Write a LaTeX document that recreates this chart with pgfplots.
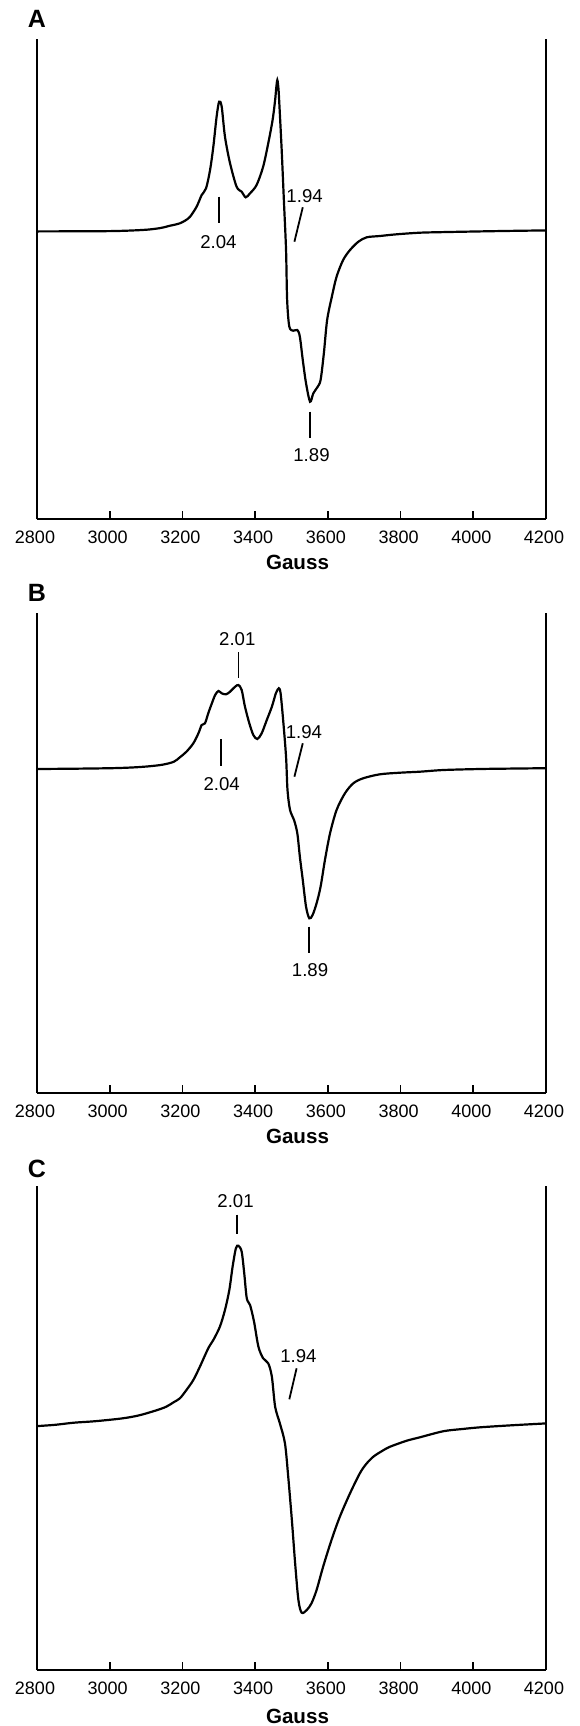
\documentclass[border=0pt]{standalone}
\usepackage{fontspec}
\setmainfont{Liberation Sans}
\usepackage{pgfplots}
\pgfplotsset{compat=1.18}

% one EPR panel; y is in arbitrary units (0..480)
\pgfplotsset{
  epr/.style={
    scale only axis, width=254.5pt, height=240pt,
    xmin=2800, xmax=4200, ymin=0, ymax=480,
    axis x line*=bottom, axis y line*=box,
    axis line style={line width=1pt, black, -},
    xtick={2800,3000,...,4200},
    xticklabels={2800,3000,3200,3400,3600,3800,4000,4200},
    ytick=\empty, xtick pos=left, tick align=inside, major tick length=4pt,
    tick style={line width=0.9pt, black},
    xticklabel style={font=\fontsize{9}{10}\selectfont, yshift=-2.5pt, xshift=-1pt},
    xlabel={Gauss},
    xlabel style={font=\bfseries\fontsize{10.3}{12}\selectfont,
      at={(axis description cs:0.5,0)}, anchor=base, yshift=-25pt, xshift=3pt},
    clip=false,
  },
  spec/.style={black, line width=1.1pt, smooth, tension=0.5},
}
\tikzset{
  ann/.style={line width=0.9pt},
  gval/.style={font=\fontsize{9.3}{11}\selectfont, inner sep=0pt},
  panel/.style={font=\bfseries\fontsize{12.5}{14}\selectfont, inner sep=0pt},
}

\begin{document}
\begin{tikzpicture}
\path[use as bounding box] (-18.5pt,-603.5pt) rectangle (271pt,259.5pt);

% ---------- A ----------
\begin{axis}[epr, at={(0pt,0pt)}, anchor=south west]
  \addplot[spec] coordinates {
    (2800,287.6)(2900,287.7)(3003,287.9)(3060,288.5)(3105,289.4)(3140,291)
    (3166,293.3)(3180,294.4)(3193,295.7)(3208,298.5)(3221,302.3)
    (3239,312.3)(3253,324)(3265,330.7)(3276,349)(3285,372.3)(3294,402.3)
    (3301,417.3)(3308,412.3)(3317,382.3)(3331,355.7)(3349,332.3)(3363,327.3)
    (3374,321.7)(3386,325.7)(3404,334)(3422,352.3)(3436,375.7)(3448,399)
    (3455,419)(3458,431)(3461,439)(3464,431)(3466,419)(3473,369)(3479,319)
    (3485,269)(3488,219)(3494,192.3)(3505,188.3)(3516,189)(3523,182.3)
    (3531,159)(3540,135.7)(3551,117.3)(3560,125.7)(3571,131.7)(3580,139)
    (3589,165.7)(3598,199)(3611,222.3)(3624,242.3)(3642,259)(3661,269)
    (3684,277.3)(3707,281.7)(3743,283)(3789,284.7)(3853,286.3)(3918,286.9)
    (4019,287.6)(4100,288.1)(4200,288.6)
  };
  \draw[ann] (axis cs:3301,322.3) -- (axis cs:3301,295.7);
  \node[gval] at (axis cs:3299,277.3) {2.04};
  \draw[ann] (axis cs:3531,311.7) -- (axis cs:3508,277.3);
  \node[gval] at (axis cs:3536,322.7) {1.94};
  \draw[ann] (axis cs:3551,107.3) -- (axis cs:3551,80.7);
  \node[gval] at (axis cs:3555,63.6) {1.89};
  \node[panel, yshift=10pt] at (rel axis cs:0,1) {A};
\end{axis}

% ---------- B ----------
\begin{axis}[epr, at={(0pt,-287pt)}, anchor=south west]
  \addplot[spec] coordinates {
    (2800,324)(2900,324.3)(3003,324.8)(3060,325.5)(3105,326.6)(3145,328.3)
    (3176,331.2)(3193,335.7)(3211,341.3)
    (3230,349.7)(3244,359.7)(3253,368)(3262,369.7)(3271,379.7)(3281,389.7)
    (3290,398)(3299,402)(3308,399.7)(3320,398.7)(3331,401.3)(3345,406.3)
    (3354,408)(3363,403)(3372,386.3)(3384,369.7)(3395,358)(3406,354)
    (3418,359.7)(3432,373)(3446,386.3)(3457,399.7)(3465,404.7)(3470,399.7)
    (3477,373)(3485,336.3)(3489,303)(3496,283)(3507,273)(3516,259.7)
    (3523,236.3)(3531,213)(3540,186.3)(3549,174.7)(3558,178)(3569,189.7)
    (3580,206.3)(3592,233)(3606,259.7)(3624,283)(3647,299.7)(3670,309.7)
    (3697,314.7)(3743,318.7)(3798,320.3)(3853,321.3)(3918,323)(4019,324)
    (4100,324.4)(4200,324.8)
  };
  \draw[ann] (axis cs:3306,353.7) -- (axis cs:3306,327);
  \node[gval] at (axis cs:3308,309) {2.04};
  \draw[ann] (axis cs:3354,441) -- (axis cs:3354,415);
  \node[gval] at (axis cs:3351,453.7) {2.01};
  \draw[ann] (axis cs:3531,349.7) -- (axis cs:3508,316.3);
  \node[gval] at (axis cs:3534,360.7) {1.94};
  \draw[ann] (axis cs:3549,166.3) -- (axis cs:3549,139.7);
  \node[gval] at (axis cs:3551,123) {1.89};
  \node[panel, yshift=10pt] at (rel axis cs:0,1) {B};
\end{axis}

% ---------- C ----------
\begin{axis}[epr, at={(0pt,-575.5pt)}, anchor=south west, height=242pt, ymax=484,
  xlabel style={yshift=-1.5pt}]
  \addplot[spec] coordinates {
    (2800,243.9)(2850,245.2)(2901,247.3)(2960,248.8)(3034,251.6)(3080,254.6)
    (3125,259.3)(3155,263.2)(3176,267.8)(3193,271.7)
    (3211,280)(3230,290)(3248,303.3)(3271,321.7)(3285,330)(3303,343.3)
    (3317,360)(3329,380)(3338,403.3)(3347,421.7)(3354,424.3)(3363,418.3)
    (3370,396.7)(3377,371.7)(3386,365)(3397,348.3)(3409,323.3)(3422,311.7)
    (3436,306.7)(3446,293.3)(3455,263.3)(3468,246.7)(3482,226.7)(3491,193.3)
    (3501,150)(3510,106.7)(3519,70)(3528,57.3)(3542,60)(3555,66.7)(3569,80)
    (3587,103.3)(3610,130)(3633,153.3)(3661,176.7)(3688,196.7)(3705,205.8)
    (3725,213.3)(3750,219.2)(3771,223.3)(3817,229.3)(3853,232.7)(3918,238.8)
    (3970,241)(4019,242.7)(4100,244.6)(4200,246.6)
  };
  \draw[ann] (axis cs:3351,455.3) -- (axis cs:3351,436);
  \node[gval] at (axis cs:3346,468.8) {2.01};
  \draw[ann] (axis cs:3514,301.7) -- (axis cs:3494,270.7);
  \node[gval] at (axis cs:3519,314) {1.94};
  \node[panel, yshift=8.5pt] at (rel axis cs:0,1) {C};
\end{axis}
\end{tikzpicture}
\end{document}
